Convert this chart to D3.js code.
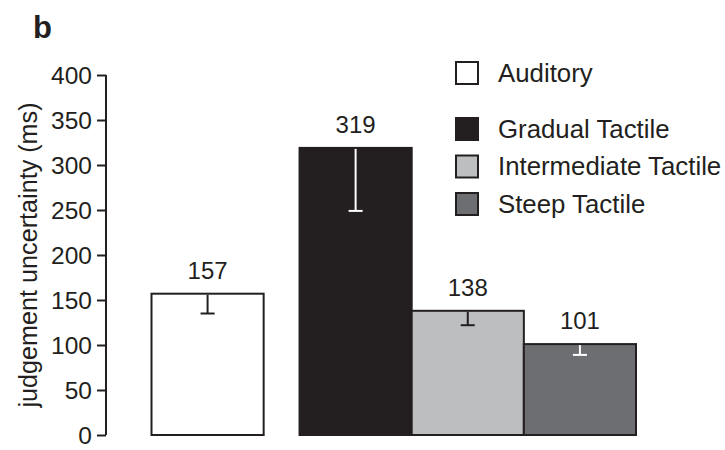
<!DOCTYPE html>
<html>
<head>
<meta charset="utf-8">
<script src="https://cdn.jsdelivr.net/npm/d3@7"></script>
<style>
  body { margin: 0; background: #fff; }
  text { font-family: "Liberation Sans", Arial, sans-serif; fill: #231f20; }
</style>
</head>
<body>
<div id="chart"></div>
<script>
// values
const conditions = ["Auditory", "Gradual Tactile", "Intermediate Tactile", "Steep Tactile"]
const means = [157, 319, 138, 101]
const errors = [22, 70, 16, 12]
const yTicks = [0, 50, 100, 150, 200, 250, 300, 350, 400]

const fills = ["#ffffff", "#231f20", "#bcbec0", "#6d6e71"]
const errColors = ["#231f20", "#ffffff", "#231f20", "#ffffff"]

const width = 725, height = 450
const svg = d3.select("#chart").append("svg").attr("width", width).attr("height", height)

// auditory bar stands apart from the three tactile bars
const gap = 0.32
const slot = i => i + (i > 0 ? gap : 0)

const x = d3.scaleLinear().domain([0, conditions.length + gap]).range([151.5, 636])
const y = d3.scaleLinear().domain([0, 400]).range([435, 75])
const barW = x(1) - x(0)

// panel letter
svg.append("text").text("b")
  .attr("x", 33).attr("y", 38)
  .style("font-size", "31px").style("font-weight", "bold")

// y axis
const yAxis = svg.append("g")
  .attr("transform", "translate(106,0)")
  .call(d3.axisLeft(y).tickValues(yTicks).tickSize(9).tickPadding(5))
yAxis.select(".domain").attr("stroke", "#231f20").attr("stroke-width", 2).attr("d", "M0,75V435")
yAxis.selectAll(".tick line").attr("stroke", "#231f20").attr("stroke-width", 2)
yAxis.selectAll(".tick text").style("font-size", "24.5px").attr("fill", "#231f20").attr("dy", "0.35em")

svg.append("text").text("judgement uncertainty (ms)")
  .attr("transform", `translate(37,${(y(0) + y(400)) / 2}) rotate(-90)`)
  .attr("text-anchor", "middle")
  .style("font-size", "25.2px")

// bars
svg.selectAll(".bar")
  .data(means)
  .enter().append("rect")
  .attr("class", "bar")
  .attr("x", (d, i) => x(slot(i)))
  .attr("width", barW)
  .attr("y", d => y(d))
  .attr("height", d => y(0) - y(d))
  .attr("fill", (d, i) => fills[i])
  .attr("stroke", "#231f20")
  .attr("stroke-width", 2)

// lower error bars
const eb = svg.selectAll(".err")
  .data(means)
  .enter().append("g")
  .attr("class", "err")
  .attr("stroke", (d, i) => errColors[i])
  .attr("stroke-width", 2)
eb.append("line")
  .attr("x1", (d, i) => x(slot(i)) + barW / 2)
  .attr("x2", (d, i) => x(slot(i)) + barW / 2)
  .attr("y1", d => y(d) + 1)
  .attr("y2", (d, i) => y(d - errors[i]))
eb.append("line")
  .attr("x1", (d, i) => x(slot(i)) + barW / 2 - 7)
  .attr("x2", (d, i) => x(slot(i)) + barW / 2 + 7)
  .attr("y1", (d, i) => y(d - errors[i]))
  .attr("y2", (d, i) => y(d - errors[i]))

// value labels
svg.selectAll(".val")
  .data(means)
  .enter().append("text")
  .attr("class", "val")
  .attr("x", (d, i) => x(slot(i)) + barW / 2)
  .attr("y", d => y(d) - 15)
  .attr("text-anchor", "middle")
  .style("font-size", "24px")
  .text(d => d)

// legend
const legendY = [73, 129, 166.5, 204]
const lg = svg.selectAll(".legend")
  .data(conditions)
  .enter().append("g")
  .attr("class", "legend")
  .attr("transform", (d, i) => `translate(456,${legendY[i]})`)
lg.append("rect")
  .attr("x", 0).attr("y", -11)
  .attr("width", 22).attr("height", 22)
  .attr("fill", (d, i) => fills[i])
  .attr("stroke", "#231f20").attr("stroke-width", 2)
lg.append("text")
  .attr("x", 42).attr("y", 8.5)
  .style("font-size", "25.8px")
  .text(d => d)
</script>
</body>
</html>
